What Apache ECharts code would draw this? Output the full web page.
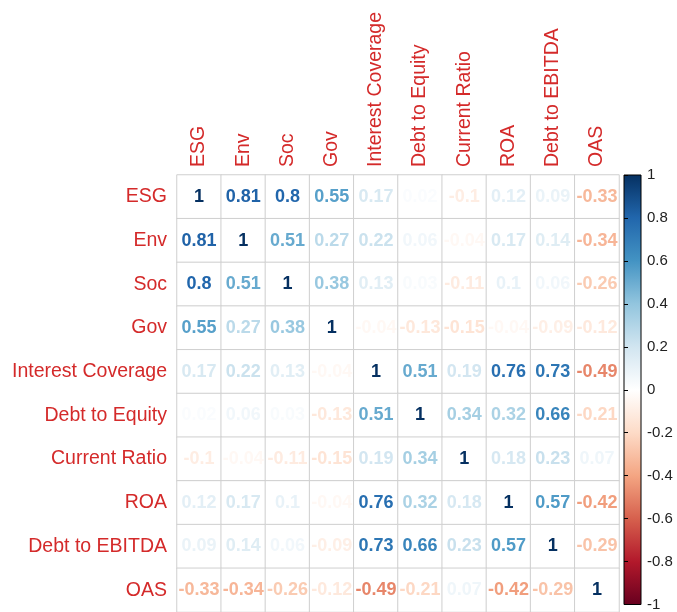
<!DOCTYPE html>
<html>
<head>
<meta charset="utf-8">
<title>Correlation matrix</title>
<script src="https://cdn.jsdelivr.net/npm/echarts@6/dist/echarts.min.js"></script>
<style>
  html, body { margin: 0; padding: 0; background: #ffffff; }
  #chart { width: 677px; height: 612px; }
</style>
</head>
<body>
<div id="chart"></div>
<script>
// Variable names (rows top to bottom, columns left to right)
const variables = ['ESG', 'Env', 'Soc', 'Gov', 'Interest Coverage', 'Debt to Equity',
  'Current Ratio', 'ROA', 'Debt to EBITDA', 'OAS'];

// Correlation coefficients, one row per variable
const rowESG      = [1, 0.81, 0.8, 0.55, 0.17, 0.02, -0.1, 0.12, 0.09, -0.33];
const rowEnv      = [0.81, 1, 0.51, 0.27, 0.22, 0.06, -0.04, 0.17, 0.14, -0.34];
const rowSoc      = [0.8, 0.51, 1, 0.38, 0.13, 0.03, -0.11, 0.1, 0.06, -0.26];
const rowGov      = [0.55, 0.27, 0.38, 1, -0.04, -0.13, -0.15, -0.04, -0.09, -0.12];
const rowIntCov   = [0.17, 0.22, 0.13, -0.04, 1, 0.51, 0.19, 0.76, 0.73, -0.49];
const rowDebtEq   = [0.02, 0.06, 0.03, -0.13, 0.51, 1, 0.34, 0.32, 0.66, -0.21];
const rowCurRatio = [-0.1, -0.04, -0.11, -0.15, 0.19, 0.34, 1, 0.18, 0.23, 0.07];
const rowROA      = [0.12, 0.17, 0.1, -0.04, 0.76, 0.32, 0.18, 1, 0.57, -0.42];
const rowDebtEbit = [0.09, 0.14, 0.06, -0.09, 0.73, 0.66, 0.23, 0.57, 1, -0.29];
const rowOAS      = [-0.33, -0.34, -0.26, -0.12, -0.49, -0.21, 0.07, -0.42, -0.29, 1];

const corrRows = [rowESG, rowEnv, rowSoc, rowGov, rowIntCov, rowDebtEq,
  rowCurRatio, rowROA, rowDebtEbit, rowOAS];

// Colour-bar tick values
const legendTicks = [-1, -0.8, -0.6, -0.4, -0.2, 0, 0.2, 0.4, 0.6, 0.8, 1];

// Diverging red-white-blue palette from -1 to 1
const palette = ['#67001F', '#B2182B', '#D6604D', '#F4A582', '#FDDBC7', '#FFFFFF',
  '#D1E5F0', '#92C5DE', '#4393C3', '#2166AC', '#053061'];

function hexToRgb(h) {
  return [parseInt(h.slice(1, 3), 16), parseInt(h.slice(3, 5), 16), parseInt(h.slice(5, 7), 16)];
}
function valueColor(v) {
  const t = (Math.max(-1, Math.min(1, v)) + 1) / 2 * (palette.length - 1);
  const i = Math.min(Math.floor(t), palette.length - 2);
  const f = t - i;
  const a = hexToRgb(palette[i]), b = hexToRgb(palette[i + 1]);
  const c = a.map((x, k) => Math.round(x + (b[k] - x) * f));
  return 'rgb(' + c.join(',') + ')';
}

const FONT = "'Liberation Sans', Arial, Helvetica, sans-serif";
const LABEL_RED = '#D42A2A';

const cells = [];
corrRows.forEach((row, r) => {
  row.forEach((v, c) => {
    cells.push({
      value: [c, r, v],
      label: { color: valueColor(v) }
    });
  });
});

const gradientStops = palette.slice().reverse().map((col, i) => ({
  offset: i / (palette.length - 1), color: col
}));

const chart = echarts.init(document.getElementById('chart'), null, { renderer: 'canvas' });
chart.setOption({
  backgroundColor: '#ffffff',
  animation: false,
  grid: [
    { left: 177, top: 175, width: 442, height: 437, containLabel: false },
    {
      left: 624, top: 175, width: 17, height: 440, show: true,
      borderColor: '#000000', borderWidth: 1,
      backgroundColor: { type: 'linear', x: 0, y: 0, x2: 0, y2: 1, colorStops: gradientStops }
    }
  ],
  xAxis: [
    {
      type: 'category', gridIndex: 0, data: variables, position: 'top',
      axisLine: { show: false }, axisTick: { show: false }, splitLine: { show: false },
      axisLabel: { rotate: -90, margin: 8, color: LABEL_RED, fontSize: 19.5, fontFamily: FONT, interval: 0 }
    },
    {
      type: 'value', gridIndex: 1, min: 0, max: 1, show: false
    }
  ],
  yAxis: [
    {
      type: 'category', gridIndex: 0, data: variables, inverse: true,
      axisLine: { show: false }, axisTick: { show: false }, splitLine: { show: false },
      axisLabel: { margin: 10, color: LABEL_RED, fontSize: 19.5, fontFamily: FONT, interval: 0 }
    },
    {
      type: 'value', gridIndex: 1, min: legendTicks[0], max: legendTicks[legendTicks.length - 1],
      interval: 0.2, position: 'right',
      axisLine: { show: false },
      axisTick: { show: true, length: 4, inside: false, lineStyle: { color: '#000000', width: 1 } },
      splitLine: { show: false },
      axisLabel: {
        margin: 6, color: '#222222', fontSize: 15, fontFamily: FONT,
        formatter: v => String(Math.round(v * 10) / 10)
      }
    }
  ],
  series: [
    {
      type: 'heatmap', xAxisIndex: 0, yAxisIndex: 0,
      data: cells,
      itemStyle: { color: '#ffffff', borderColor: '#CFCFCF', borderWidth: 1 },
      label: {
        show: true, fontSize: 18, fontWeight: 'bold', fontFamily: FONT,
        formatter: p => String(p.value[2])
      },
      emphasis: { disabled: true }
    }
  ]
});
</script>
</body>
</html>
